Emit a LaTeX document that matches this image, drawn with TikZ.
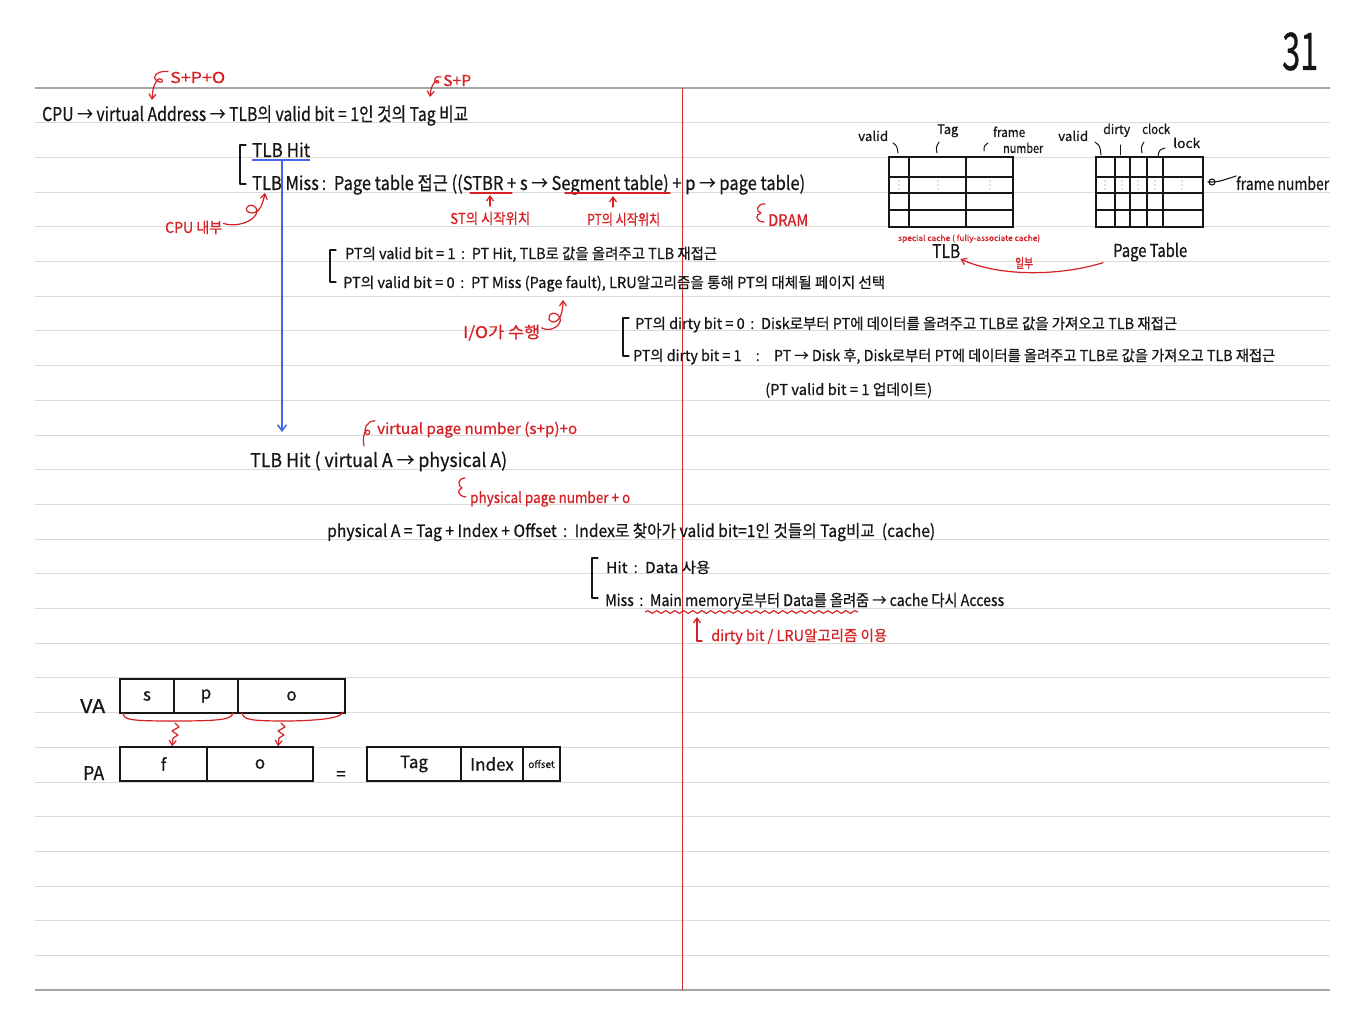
\documentclass[tikz,border=0pt]{standalone}
\usepackage{fontspec}
\setmainfont{Noto Sans CJK KR}[FakeBold=0.6]
\usepackage{graphicx}
\usetikzlibrary{arrows.meta,decorations.pathmorphing}
\definecolor{ink}{RGB}{22,22,22}
\definecolor{pen}{RGB}{214,32,36}
\definecolor{bpen}{RGB}{70,100,235}
\definecolor{rulec}{RGB}{218,218,218}
\definecolor{ruledark}{RGB}{165,165,165}
\definecolor{marginc}{RGB}{205,45,45}
\definecolor{dotc}{RGB}{120,120,120}
\newcommand\tw[2]{\resizebox{#1pt}{\height}{#2}}
\tikzset{
  txt/.style={anchor=base west, inner sep=0pt, text=ink, font=\fontsize{#1}{#1}\selectfont},
  ann/.style={txt=#1, text=pen},
  inkline/.style={draw=ink, line width=1.3pt, line cap=round, line join=round},
  penline/.style={draw=pen, line width=1.2pt, line cap=round, line join=round},
  penarrow/.style={penline, -{Straight Barb[length=5pt,width=7pt]}},
  tabline/.style={draw=ink, line width=1.8pt},
  cell/.style={draw=ink, line width=1.4pt, inner sep=0pt, minimum height=34pt, text=ink, font=\fontsize{17}{17}\selectfont}
}
\begin{document}
\begin{tikzpicture}[x=1pt,y=-1pt]
\useasboundingbox (0,0) rectangle (1365,1024);
\fill[white] (0,0) rectangle (1365,1024);
% ruled paper
\foreach \k in {1,...,25} \draw[rulec, line width=1pt] (35,{88+\k*34.7}) -- (1330,{88+\k*34.7});
\draw[ruledark, line width=1.2pt] (35,88) -- (1330,88);
\draw[ruledark, line width=1.2pt] (35,990) -- (1330,990);
\draw[marginc, line width=1pt] (682,88) -- (682,990);

% page number
\node[txt=52] (pnum) at (1282,70) {\tw{36}{31}};

% line 1
\node[txt=19] (l1) at (42,121) {\tw{426}{CPU → virtual Address → TLB의 valid bit = 1인 것의 Tag 비교}};
\node[ann=15] (spo) at (170,83) {\tw{55}{S+P+O}};
\coordinate (spoT) at (152,100);
\draw[penarrow] (spo.west) ++(-2,-6) .. controls (155,70) and (150,80) .. (160,82) .. controls (166,83) and (160,74) .. (156,82) .. controls (153,88) .. (spoT);
\node[ann=15] (sp) at (443,86) {\tw{28}{S+P}};
\coordinate (spT) at (430,97);
\draw[penarrow] (441,77) .. controls (436,75) and (432,80) .. (437,83) .. controls (441,84) and (438,77) .. (434,83) .. controls (431,88) .. (spT);

% TLB hit / miss
\draw[inkline] (246,145) -- (240,145) -- (240,184) -- (246,184);
\node[txt=19] (tlbhit) at (252,157) {\tw{58}{TLB Hit}};
\node[txt=19] (tlbmiss) at (252,190) {\tw{553}{TLB Miss\,:\, Page table 접근 ((STBR + s → Segment table) + p → page table)}};
% blue
\coordinate (bl) at (252,160);
\coordinate (br) at (310,160);
\coordinate (bs) at (282,160);
\coordinate (be) at (282,432);
\draw[bpen, line width=1.5pt] (bl) -- (br);
\draw[bpen, line width=1.5pt, -{Straight Barb[length=6pt,width=9pt]}] (bs) -- (be);

% STBR / Segment annotations
\draw[penline] (470,193) -- (512,193);
\draw[penarrow] (490,206) -- (490,195);
\node[ann=15] (stpos) at (450,224) {\tw{80}{ST의 시작위치}};
\draw[penline] (565,193) -- (670,193);
\draw[penarrow] (613,207) -- (613,196);
\node[ann=15] (ptpos) at (587,225) {\tw{73}{PT의 시작위치}};
\node[ann=16] (dram) at (768,226) {\tw{40}{DRAM}};
\draw[penline] (765,204) .. controls (757,203) and (755,212) .. (761,213) .. controls (755,214) and (755,222) .. (764,222);

% CPU 내부
\node[ann=15] (cpuin) at (165,233) {\tw{57}{CPU 내부}};
\coordinate (cpuT) at (265,193);
\draw[penarrow] (cpuin.east) ++(1,-4) .. controls (240,229) and (262,217) .. (256,208) .. controls (250,200) and (240,212) .. (252,213) .. controls (260,213) and (263,203) .. (cpuT);

% PT valid bit
\draw[inkline] (336,250) -- (330,250) -- (330,282) -- (336,282);
\node[txt=15] (ptv1) at (345,259) {\tw{372}{PT의 valid bit = 1\, :\, PT Hit, TLB로 값을 올려주고 TLB 재접근}};
\node[txt=15] (ptv0) at (343,288) {\tw{542}{PT의 valid bit = 0\, :\, PT Miss (Page fault), LRU알고리즘을 통해 PT의 대체될 페이지 선택}};
\node[ann=16] (io) at (463,338) {\tw{77}{I/O가 수행}};
\coordinate (ioT) at (563,300);
\draw[penarrow] (io.east) ++(1,-5) .. controls (552,334) and (566,322) .. (558,315) .. controls (551,309) and (544,320) .. (553,322) .. controls (560,322) and (563,312) .. (ioT);

% dirty bit
\draw[inkline] (629,318) -- (623,318) -- (623,356) -- (629,356);
\node[txt=15] (d0) at (635,329) {\tw{542}{PT의 dirty bit = 0\, :\, Disk로부터 PT에 데이터를 올려주고 TLB로 값을 가져오고 TLB 재접근}};
\node[txt=15] (d1) at (633,361) {\tw{642}{PT의 dirty bit = 1\quad :\quad PT → Disk 후, Disk로부터 PT에 데이터를 올려주고 TLB로 값을 가져오고 TLB 재접근}};
\node[txt=15] (d1b) at (765,395) {\tw{167}{(PT valid bit = 1 업데이트)}};

% TLB Hit (virtual A -> physical A)
\node[txt=19] (hit2) at (250,467) {\tw{257}{TLB Hit ( virtual A → physical A)}};
\node[ann=15] (vpn) at (377,434) {\tw{200}{virtual page number (s+p)+o}};
\draw[penline] (375,421) .. controls (367,420) and (363,430) .. (366,434) .. controls (369,437) and (372,430) .. (367,430) .. controls (363,432) and (363,440) .. (364,446);
\node[ann=15] (ppn) at (470,503) {\tw{160}{physical page number + o}};
\draw[penline] (465,478) .. controls (458,478) and (457,486) .. (462,488) .. controls (457,489) and (457,496) .. (466,497);

% physical A
\node[txt=17] (pa) at (327,537) {\tw{608}{physical A = Tag + Index + Offset\, :\, Index로 찾아가 valid bit=1인 것들의 Tag비교\ \ (cache)}};
\draw[inkline] (598,558) -- (592,558) -- (592,598) -- (598,598);
\node[txt=15] (chit) at (606,573) {\tw{104}{Hit\, :\, Data 사용}};
\node[txt=16] (cmiss) at (605,606) {\tw{399}{Miss\, :\, Main memory로부터 Data를 올려줌 → cache 다시 Access}};
\draw[pen, line width=1.1pt, decorate, decoration={snake, amplitude=1.4pt, segment length=9pt}] (645,612) -- (858,612);
\coordinate (dbT) at (697,617);
\draw[penarrow] (702,641) -- (697,641) -- (dbT);
\node[ann=15] (dbit) at (711,641) {\tw{176}{dirty bit / LRU알고리즘 이용}};

% VA / PA boxes
\node[txt=19] (valbl) at (80,713) {\tw{25}{VA}};
\node[cell, minimum width=54pt] (vas) at (147,696) {s};
\node[cell, minimum width=64pt] (vap) at (206,696) {p};
\node[cell, minimum width=107pt] (vao) at (291.5,696) {o};
\node[txt=19] (palbl) at (83,780) {\tw{21}{PA}};
\node[cell, minimum width=87pt] (paf) at (163.5,764) {f};
\node[cell, minimum width=106pt] (pao) at (260,764) {o};
\node[txt=17] (eq) at (336,780) {=};
\node[cell, minimum width=94pt] (ctag) at (414,764) {Tag};
\node[cell, minimum width=62pt] (cidx) at (492,764) {Index};
\node[cell, minimum width=37pt, font=\fontsize{10}{10}\selectfont] (coff) at (541.5,764) {offset};
% braces
\draw[penline] (123,713) .. controls (124,720) and (130,721) .. (175,721) .. controls (225,721) and (231,719) .. (233,713);
\draw[penarrow] (175,723) -- (179,727) -- (172,731) -- (178,735) -- (173,738) -- (paf.north -| 172,0);
\draw[penline] (242,713) .. controls (244,720) and (250,721) .. (290,721) .. controls (335,720) and (341,716) .. (343,712);
\draw[penarrow] (281,723) -- (285,727) -- (278,731) -- (284,735) -- (279,738) -- (pao.north -| 278,0);

% TLB table
\node[draw=ink, line width=1.8pt, minimum width=124pt, minimum height=70pt, inner sep=0pt] (tlbtab) at (951,192) {};
\foreach \x in {909,966} \draw[tabline] (\x,157) -- (\x,227);
\foreach \y in {177,193,210} \draw[tabline] (889,\y) -- (1013,\y);
\foreach \x in {899,938,990} \foreach \d in {-4,0,4} \fill[dotc] (\x,185+\d) circle (0.7);
\node[txt=13] (tv) at (858,141) {\tw{30}{valid}};
\node[txt=13] (tt) at (937,134) {\tw{21}{Tag}};
\node[txt=13] (tf) at (993,137) {\tw{32}{frame}};
\node[txt=13] (tn) at (1003,153) {\tw{40}{number}};
\draw[inkline, line width=1pt] (893,143) .. controls (897,146) .. (898,153);
\draw[inkline, line width=1pt] (939,142) .. controls (936,147) .. (937,153);
\draw[inkline, line width=1pt] (988,143) .. controls (984,146) .. (984,151);
\node[ann=8] (spc) at (898,241) {\tw{142}{special cache ( fully-associate cache)}};
\node[txt=19] (tlblbl) at (932,258) {\tw{28}{TLB}};

% Page table
\node[draw=ink, line width=1.8pt, minimum width=107pt, minimum height=70pt, inner sep=0pt] (pttab) at (1149.5,192) {};
\foreach \x in {1115,1130,1147,1163} \draw[tabline] (\x,157) -- (\x,227);
\foreach \y in {177,193,210} \draw[tabline] (1096,\y) -- (1203,\y);
\foreach \x in {1105,1122,1138,1155,1182} \foreach \d in {-4,0,4} \fill[dotc] (\x,185+\d) circle (0.7);
\node[txt=13] (pv) at (1058,141) {\tw{30}{valid}};
\node[txt=13] (pd) at (1103,134) {\tw{27}{dirty}};
\node[txt=13] (pc) at (1142,134) {\tw{28}{clock}};
\node[txt=13] (pl) at (1173,148) {\tw{27}{lock}};
\draw[inkline, line width=1pt] (1095,142) .. controls (1100,146) .. (1101,155);
\draw[inkline, line width=1pt] (1120,145) -- (1120,155);
\draw[inkline, line width=1pt] (1144,142) .. controls (1141,147) .. (1142,153);
\draw[inkline, line width=1pt] (1165,148) .. controls (1159,150) .. (1158,157);
\node[txt=17] (fn) at (1236,190) {\tw{93}{frame number}};
\draw[inkline, line width=1.1pt] (1208,182) .. controls (1218,182) .. (fn.west |- 0,176);
\draw[ink, line width=1.1pt] (1212,182) circle (3);
\node[txt=18] (ptlbl) at (1113,257) {\tw{74}{Page Table}};
\draw[penarrow] (ptlbl.south west) ++(-10,1) .. controls (1060,276) and (1000,277) .. (tlblbl.east |- 0,259);
\node[ann=13] (ilbu) at (1015,268) {\tw{18}{일부}};
\end{tikzpicture}
\end{document}
